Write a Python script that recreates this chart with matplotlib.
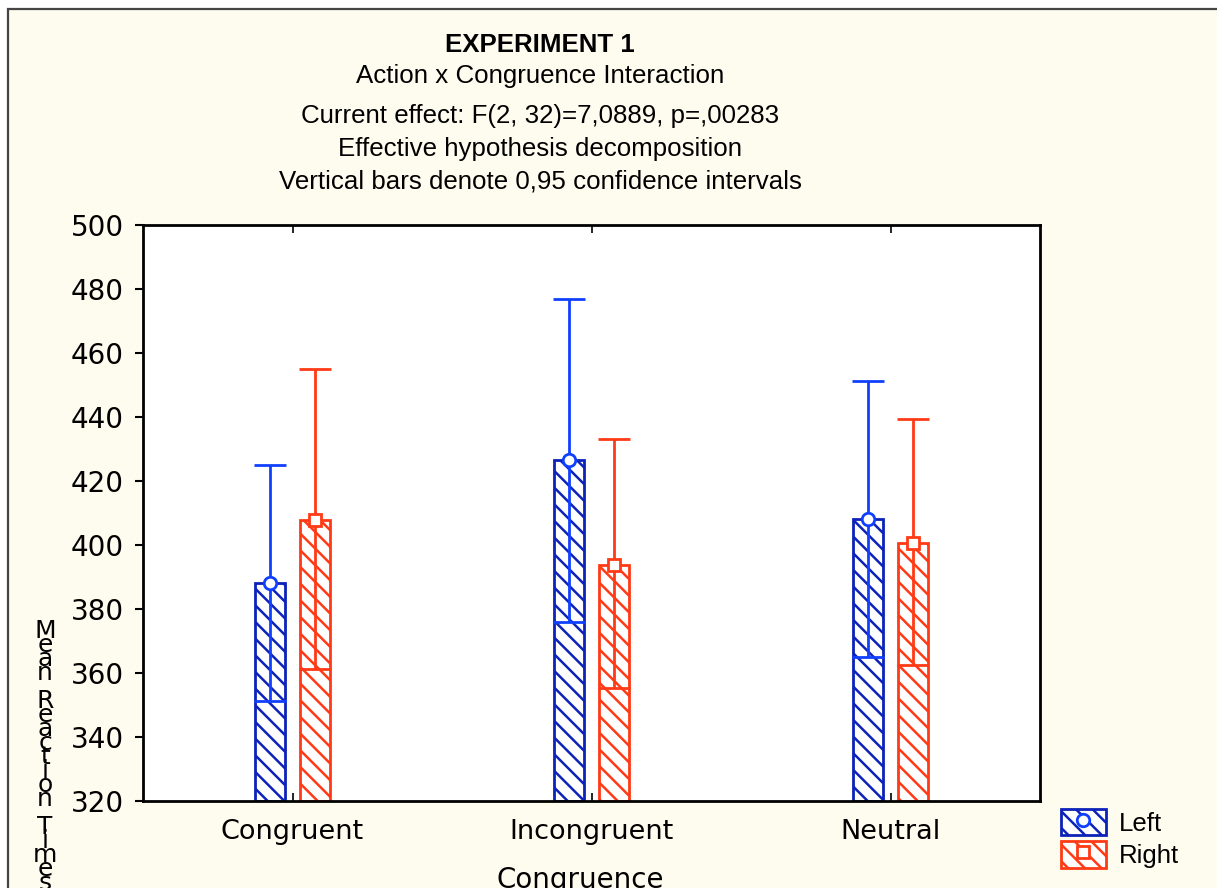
import matplotlib
matplotlib.use("Agg")
import matplotlib.pyplot as plt
import numpy as np
from matplotlib.patches import Patch, Rectangle
from matplotlib.lines import Line2D
from matplotlib.legend_handler import HandlerTuple

# ---- data ----
categories = ["Congruent", "Incongruent", "Neutral"]
series = ["Left", "Right"]
left_mean = [388.1, 426.6, 408.1]
left_upper = [425.0, 476.9, 451.2]
left_lower = [351.2, 375.9, 365.0]
right_mean = [407.8, 393.8, 400.6]
right_upper = [455.0, 433.1, 439.4]
right_lower = [361.2, 355.3, 362.5]
yticks = [320, 340, 360, 380, 400, 420, 440, 460, 480, 500]

title_lines = ["EXPERIMENT 1",
               "Action x Congruence Interaction",
               "Current effect: F(2, 32)=7,0889, p=,00283",
               "Effective hypothesis decomposition",
               "Vertical bars denote 0,95 confidence intervals"]
xlabel = "Congruence"
ylabel = "Mean Reaction Times"

W, H = 1217, 888
fig = plt.figure(figsize=(W / 100, H / 100), dpi=100)
fig.patch.set_facecolor("white")

def fx(px):
    return px / W

def fy(py):
    return 1 - py / H

# outer cream frame
frame = Rectangle((fx(8), fy(H + 20)), fx(W + 20), (H + 20 - 9) / H,
                  transform=fig.transFigure, facecolor="#FEFBEF",
                  edgecolor="#444444", linewidth=1.6, zorder=-10)
fig.patches.append(frame)

ax = fig.add_axes([fx(143), fy(801), fx(1040) - fx(143), fy(225) - fy(801)])
ax.set_facecolor("white")
ax.set_zorder(1)

blue_edge = "#0C22B8"
blue_err = "#1040FF"
red_edge = "#FF3A16"
red_err = "#FF3A16"

plt.rcParams["hatch.linewidth"] = 1.8

x = np.arange(len(categories))
off = 0.075
bw = 0.1
base = 320

lm = np.array(left_mean)
rm = np.array(right_mean)

plt.rcParams["hatch.color"] = blue_edge
ax.bar(x - off, lm - base, bw, bottom=base, facecolor="white",
       edgecolor=blue_edge, hatch="\\\\", linewidth=2, zorder=2)
b2 = ax.bar(x + off, rm - base, bw, bottom=base, facecolor="white",
            edgecolor=red_edge, hatch="\\\\", linewidth=2, zorder=2)
for p in b2.patches:
    p._hatch_color = matplotlib.colors.to_rgba(red_edge)

ax.errorbar(x - off, lm, yerr=[lm - np.array(left_lower), np.array(left_upper) - lm],
            fmt="o", color=blue_err, ecolor=blue_err, elinewidth=2, capsize=11.5,
            capthick=2, markersize=9, markerfacecolor="white",
            markeredgecolor=blue_err, markeredgewidth=2, zorder=3)
ax.errorbar(x + off, rm, yerr=[rm - np.array(right_lower), np.array(right_upper) - rm],
            fmt="s", color=red_err, ecolor=red_err, elinewidth=2, capsize=11.5,
            capthick=2, markersize=8.5, markerfacecolor="white",
            markeredgecolor=red_err, markeredgewidth=2, zorder=3)

ax.set_xlim(-0.5, 2.5)
ax.set_ylim(320, 500)
ax.set_yticks(yticks)
ax.set_yticklabels([str(v) for v in yticks], fontsize=20, family="DejaVu Sans")
ax.set_xticks(x)
ax.set_xticklabels(categories, fontsize=19.5, family="DejaVu Sans")
ax.tick_params(axis="y", direction="out", length=6, width=1.5, pad=8, left=True, right=False)
ax.tick_params(axis="x", direction="in", length=6, width=1.2, pad=13, bottom=True, top=True)
for s in ax.spines.values():
    s.set_linewidth(2)
    s.set_color("black")

# titles
title_y = [45, 76, 116, 149, 182]
for i, (t, yy) in enumerate(zip(title_lines, title_y)):
    fig.text(fx(540), fy(yy), t, ha="center", va="center", fontsize=18.6,
             family="Liberation Sans", fontweight="bold" if i == 0 else "normal")

# x label
fig.text(fx(580), fy(880), xlabel, ha="center", va="center", fontsize=20,
         family="DejaVu Sans")

# y label stacked characters
y0 = 631
step = 14
for i, ch in enumerate(ylabel):
    if ch != " ":
        fig.text(fx(45), fy(y0 + i * step), ch, ha="center", va="center",
                 fontsize=18, family="DejaVu Sans")

# legend
hl = (Patch(facecolor="white", edgecolor=blue_edge, hatch="\\\\", linewidth=2),
      Line2D([], [], marker="o", linestyle="none", markersize=9,
             markerfacecolor="white", markeredgecolor=blue_err, markeredgewidth=2))
rp = Patch(facecolor="white", edgecolor=red_edge, hatch="\\\\", linewidth=2)
rp._hatch_color = matplotlib.colors.to_rgba(red_edge)
hr = (rp,
      Line2D([], [], marker="s", linestyle="none", markersize=8.5,
             markerfacecolor="white", markeredgecolor=red_err, markeredgewidth=2))
leg = fig.legend([hl, hr], series, loc="upper left",
                 bbox_to_anchor=(fx(1061), fy(809)), frameon=False,
                 prop={"family": "Liberation Sans", "size": 18.5},
                 handlelength=1.75, handleheight=1.2, handletextpad=0.5,
                 labelspacing=0.22, borderpad=0, borderaxespad=0,
                 handler_map={tuple: HandlerTuple(ndivide=1)})

fig.savefig("out.png", dpi=100, facecolor=fig.get_facecolor())
